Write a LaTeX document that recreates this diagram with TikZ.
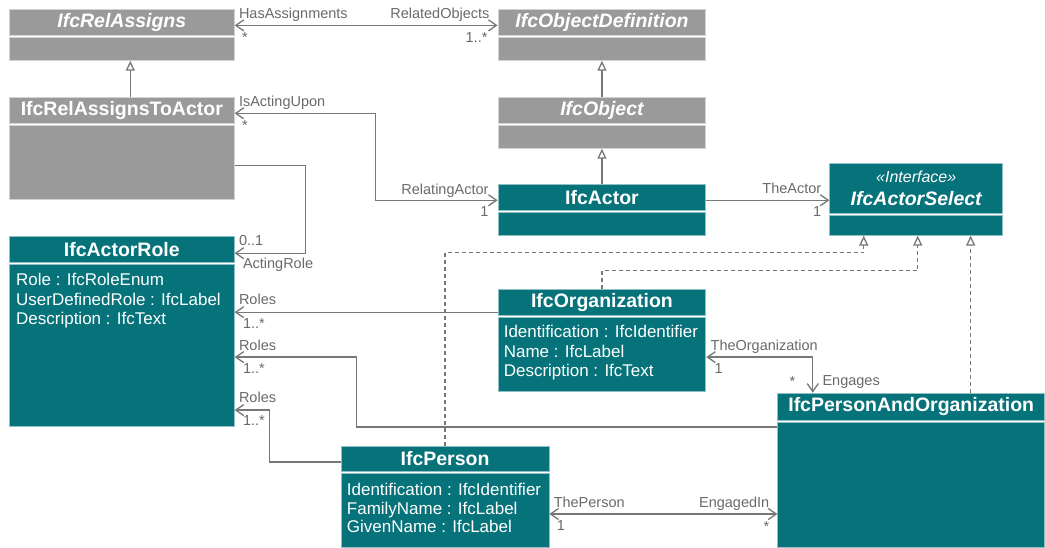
\documentclass[tikz,border=0pt]{standalone}
\usepackage{fontspec}
\setmainfont{Liberation Sans}
\usetikzlibrary{arrows.meta}
\definecolor{clsteal}{HTML}{06737A}
\definecolor{clsgray}{HTML}{9A9A9A}
\definecolor{linegray}{HTML}{777777}
\definecolor{labelgray}{HTML}{6A6A6A}
\tikzset{
  clsbox/.style={anchor=north west, inner sep=0pt, text=white, line width=0.8pt},
  tealbox/.style={clsbox, fill=clsteal, draw=clsteal!45!white},
  graybox/.style={clsbox, fill=clsgray, draw=clsgray!45!white},
  clsname/.style={font=\fontsize{19.5}{22}\selectfont\bfseries},
  absname/.style={font=\fontsize{19.5}{22}\selectfont\bfseries\itshape},
  attr/.style={anchor=base west, inner sep=0pt, text=white, font=\fontsize{17}{19.5}\selectfont},
  endlbl/.style={inner sep=0pt, text=labelgray, font=\fontsize{14.5}{16}\selectfont},
  assoc/.style={draw=linegray, line width=1.3pt},
  barb/.tip={Straight Barb[length=8pt,width=11pt]},
  gentip/.tip={Triangle[length=10pt,width=9pt,fill=white]},
  realize/.style={assoc, dash pattern=on 4pt off 3pt}
}
\begin{document}
\begin{tikzpicture}[x=1pt,y=-1pt]
\path[fill=white] (0,0) rectangle (1045,547);

\node[graybox, absname, minimum width=225pt, minimum height=26pt] (ra) at (9,9) {IfcRelAssigns};
\node[graybox, minimum width=225pt, minimum height=23pt] (ra-b) at (9,37) {};
\node[graybox, absname, minimum width=208pt, minimum height=26pt] (od) at (498,9) {IfcObjectDefinition};
\node[graybox, minimum width=208pt, minimum height=23pt] (od-b) at (498,37) {};
\node[graybox, clsname, minimum width=225pt, minimum height=26pt] (rta) at (9,97) {IfcRelAssignsToActor};
\node[graybox, minimum width=225pt, minimum height=74pt] (rta-b) at (9,125) {};
\node[graybox, absname, minimum width=208pt, minimum height=26pt] (obj) at (498,97) {IfcObject};
\node[graybox, minimum width=208pt, minimum height=23pt] (obj-b) at (498,125) {};
\node[tealbox, clsname, minimum width=208pt, minimum height=26pt] (act) at (498,184) {IfcActor};
\node[tealbox, minimum width=208pt, minimum height=23pt] (act-b) at (498,212) {};
\node[tealbox, absname, align=center, minimum width=173pt, minimum height=50pt] (asel) at (830,163)
  {{\fontsize{16}{22}\selectfont\mdseries\itshape «Interface»}\\[1pt]IfcActorSelect};
\node[tealbox, minimum width=173pt, minimum height=20pt] (asel-b) at (830,215) {};
\node[tealbox, clsname, minimum width=225pt, minimum height=26pt] (role) at (9,236) {IfcActorRole};
\node[tealbox, minimum width=225pt, minimum height=162pt] (role-b) at (9,264) {};
\node[tealbox, clsname, minimum width=208pt, minimum height=26pt] (org) at (498,289) {IfcOrganization};
\node[tealbox, minimum width=208pt, minimum height=74pt] (org-b) at (498,317) {};
\node[tealbox, clsname, minimum width=267pt, minimum height=27pt] (pao) at (778,393) {IfcPersonAndOrganization};
\node[tealbox, minimum width=267pt, minimum height=125pt] (pao-b) at (778,422) {};
\node[tealbox, clsname, minimum width=208pt, minimum height=25pt] (per) at (341,446) {IfcPerson};
\node[tealbox, minimum width=208pt, minimum height=74pt] (per-b) at (341,473) {};

\node[attr] (role-a1) at (16,286) {Role : IfcRoleEnum};
\node[attr] (role-a2) at (16,305.5) {UserDefinedRole : IfcLabel};
\node[attr] (role-a3) at (16,325) {Description : IfcText};
\node[attr] (org-a1) at (504,338) {Identification : IfcIdentifier};
\node[attr] (org-a2) at (504,357.5) {Name : IfcLabel};
\node[attr] (org-a3) at (504,377) {Description : IfcText};
\node[attr] (per-a1) at (347,496) {Identification : IfcIdentifier};
\node[attr] (per-a2) at (347,514.5) {FamilyName : IfcLabel};
\node[attr] (per-a3) at (347,533) {GivenName : IfcLabel};

\draw[assoc, gentip-] ([xshift=8.5pt]ra-b.south) -- ([xshift=8.5pt]rta.north);
\draw[assoc, gentip-] (od-b.south) -- (obj.north);
\draw[assoc, gentip-] (obj-b.south) -- (act.north);

\draw[assoc, barb-barb] ([yshift=-3pt]ra.east) -- ([yshift=-3pt]od.west);
\draw[assoc, barb-barb] ([yshift=-3pt]rta.east) -- ++(141,0) |- ([yshift=-3pt]act.west);
\draw[assoc, -barb] ([yshift=-3pt]rta-b.east) -- ++(71,0) |- ([yshift=-4pt]role.east);
\draw[assoc, -barb] ([yshift=-3pt]act.east) -- ([yshift=-12pt]asel.west);
\draw[assoc, -barb] ([yshift=-10pt]org.west) -- ([yshift=33pt]role-b.east);
\draw[assoc, -barb] ([yshift=57.5pt]pao-b.west) -- ++(-421,0) |- ([yshift=-12pt]role-b.east);
\draw[assoc, -barb] ([yshift=-3.5pt]per.west) -- ++(-71,0) |- ([yshift=-65pt]role-b.east);
\draw[assoc, barb-barb] ([yshift=-3pt]org-b.east) -| ([xshift=-98.5pt]pao.north);
\draw[assoc, barb-barb] ([yshift=-4pt]per-b.east) -- ([yshift=-4pt]per-b.east -| pao-b.west);

\draw[realize, -gentip] (per.north) |- ([xshift=-52.5pt,yshift=-17pt]asel-b.south) -- ([xshift=-52.5pt]asel-b.south);
\draw[realize, -gentip] (org.north) |- ([xshift=1.5pt,yshift=-35pt]asel-b.south) -- ([xshift=1.5pt]asel-b.south);
\draw[realize, -gentip] ([xshift=59.5pt]pao.north) -- ([xshift=54.5pt]asel-b.south);

\node[endlbl, anchor=base west] (l-hasass) at (239,19) {HasAssignments};
\node[endlbl, anchor=base west] (m-hasass) at (242,43) {*};
\node[endlbl, anchor=base east] (l-relobj) at (490,19) {RelatedObjects};
\node[endlbl, anchor=base east] (m-relobj) at (488,43) {1..*};
\node[endlbl, anchor=base west] (l-upon) at (239,107) {IsActingUpon};
\node[endlbl, anchor=base west] (m-upon) at (242,131) {*};
\node[endlbl, anchor=base east] (l-relact) at (489,195) {RelatingActor};
\node[endlbl, anchor=base east] (m-relact) at (489,217) {1};
\node[endlbl, anchor=base east] (l-theact) at (822,194) {TheActor};
\node[endlbl, anchor=base east] (m-theact) at (822,217) {1};
\node[endlbl, anchor=base west] (m-actrole) at (239,246) {0..1};
\node[endlbl, anchor=base west] (l-actrole) at (243,269) {ActingRole};
\node[endlbl, anchor=base west] (l-roles1) at (239,305) {Roles};
\node[endlbl, anchor=base west] (m-roles1) at (243,329) {1..*};
\node[endlbl, anchor=base west] (l-roles2) at (239,351) {Roles};
\node[endlbl, anchor=base west] (m-roles2) at (243,374) {1..*};
\node[endlbl, anchor=base west] (l-roles3) at (239,403) {Roles};
\node[endlbl, anchor=base west] (m-roles3) at (243,426) {1..*};
\node[endlbl, anchor=base west] (l-theorg) at (711,351) {TheOrganization};
\node[endlbl, anchor=base west] (m-theorg) at (715,374) {1};
\node[endlbl, anchor=base west] (m-engages) at (790,387) {*};
\node[endlbl, anchor=base west] (l-engages) at (823,386) {Engages};
\node[endlbl, anchor=base west] (l-theper) at (554,508) {ThePerson};
\node[endlbl, anchor=base west] (m-theper) at (557,531) {1};
\node[endlbl, anchor=base east] (l-engin) at (770,508) {EngagedIn};
\node[endlbl, anchor=base east] (m-engin) at (770,532) {*};
\end{tikzpicture}
\end{document}
